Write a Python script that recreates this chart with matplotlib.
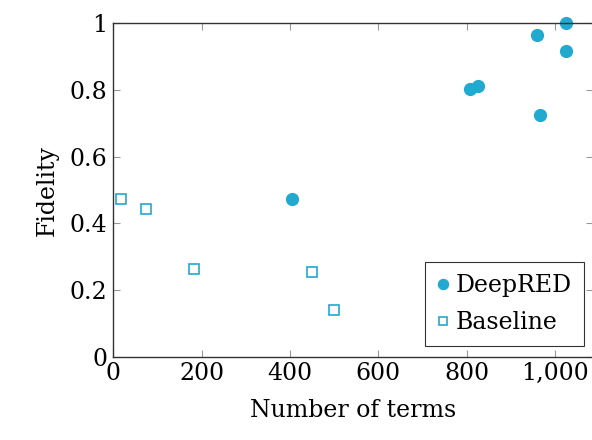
import matplotlib
matplotlib.use("Agg")
import matplotlib.pyplot as plt
from matplotlib.ticker import FuncFormatter

deepred_terms = [1024, 959, 1024, 808, 825, 965, 404]
deepred_fidelity = [1.0, 0.964, 0.916, 0.802, 0.812, 0.726, 0.472]
baseline_terms = [17, 74, 183, 449, 499]
baseline_fidelity = [0.472, 0.443, 0.263, 0.253, 0.140]
x_ticks = [0, 200, 400, 600, 800, 1000]
y_ticks = [0, 0.2, 0.4, 0.6, 0.8, 1.0]

color = "#21a9cf"
plt.rcParams['font.family'] = ['DejaVu Serif']

fig = plt.figure(figsize=(5.92, 4.4), dpi=100)
ax = fig.add_axes([113.3/592, 1-356.7/440, (593-113.3)/592, (356.7-23.3)/440])

ax.plot(deepred_terms, deepred_fidelity, linestyle='none', marker='o', markersize=8.5,
        color=color, label='DeepRED', clip_on=False)
ax.plot(baseline_terms, baseline_fidelity, linestyle='none', marker='s', markersize=7.5,
        markerfacecolor='white', markeredgecolor=color, markeredgewidth=1.2,
        label='Baseline', clip_on=False)

ax.set_xlim(0, 1086)
ax.set_ylim(0, 1)
ax.set_xticks(x_ticks)
ax.set_yticks(y_ticks)
ax.xaxis.set_major_formatter(FuncFormatter(lambda v, p: f"{int(v):,}"))
ax.yaxis.set_major_formatter(FuncFormatter(lambda v, p: f"{v:g}"))
ax.tick_params(direction='in', top=True, right=True, length=5, width=0.8,
               color='#999999', labelsize=17, pad=4)
for s in ax.spines.values():
    s.set_linewidth(1.0)
    s.set_color('#333333')

ax.set_xlabel("Number of terms", fontsize=17, labelpad=10)
ax.set_ylabel("Fidelity", fontsize=17, labelpad=8)

leg = ax.legend(loc='lower right', fontsize=17, frameon=True, fancybox=False,
                edgecolor='black', handlelength=0.5, handletextpad=0.3,
                borderpad=0.5, labelspacing=0.6, markerscale=0.85,
                borderaxespad=0, bbox_to_anchor=(0.981, 0.032))
leg.get_frame().set_linewidth(0.8)

fig.savefig("out.png", dpi=100)
